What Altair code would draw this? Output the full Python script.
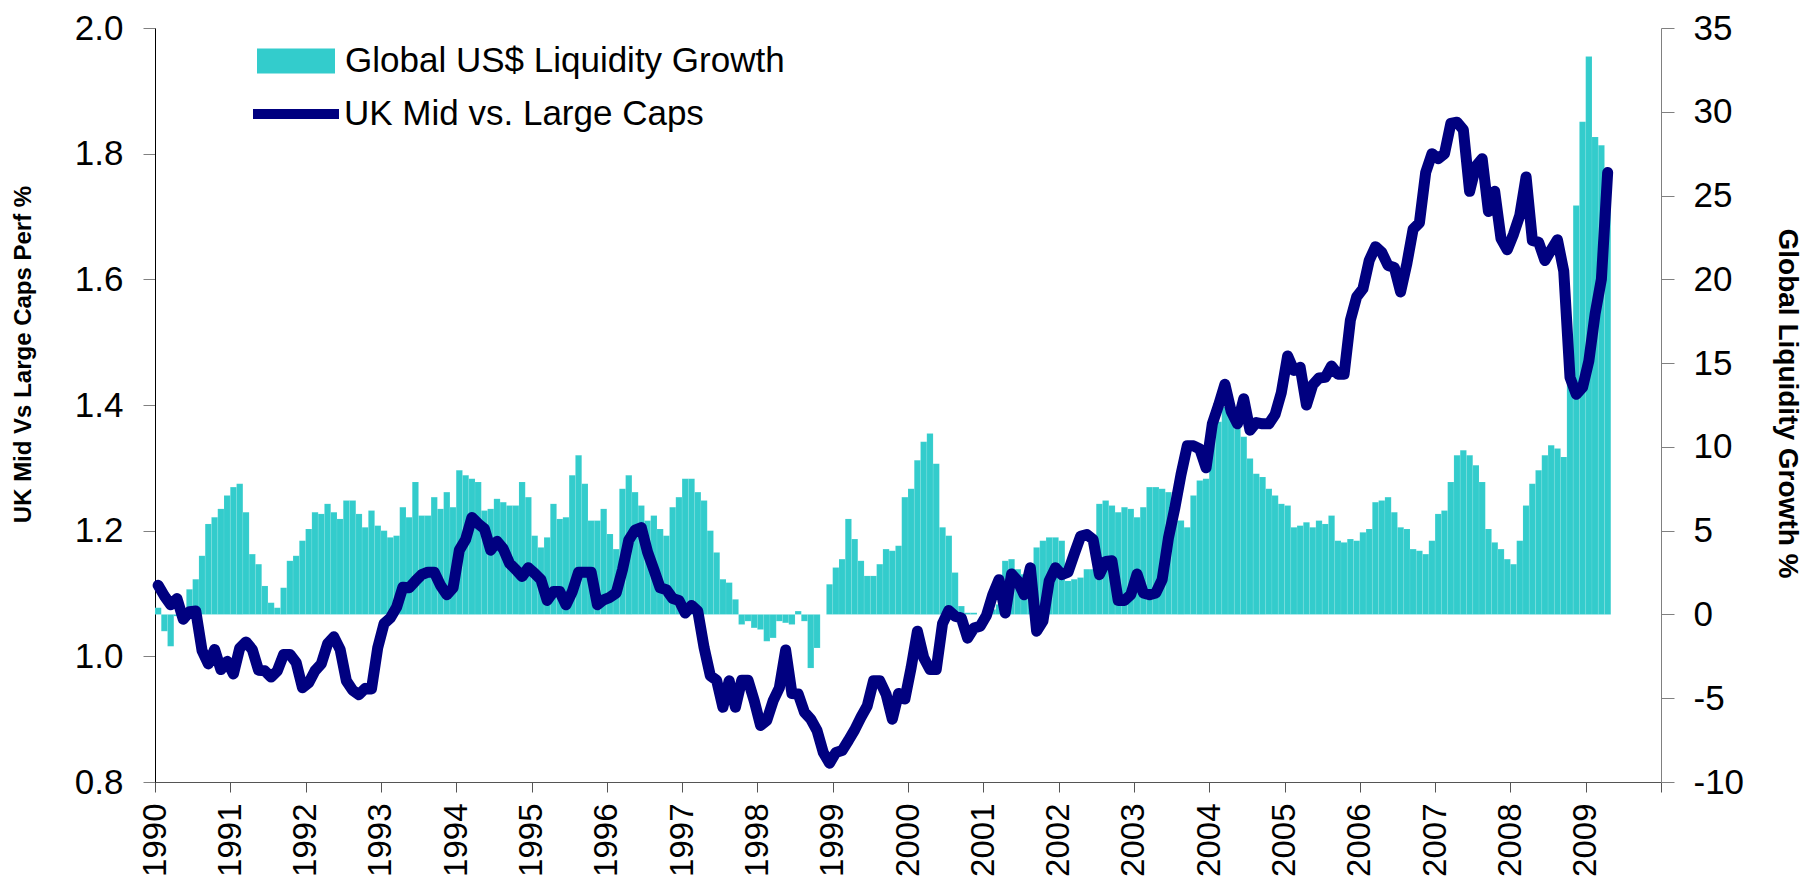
import altair as alt
import pandas as pd

# Global US$ liquidity growth, % (monthly, Jan 1990 .. Apr 2009) - right axis
liq = [
    0.4, -1.0, -1.9, -0.1, 0.3, 1.5, 2.1, 3.5, 5.4, 5.8, 6.3, 7.1,      # 1990
    7.6, 7.8, 6.1, 3.6, 3.0, 1.7, 0.7, 0.4, 1.6, 3.2, 3.5, 4.4,         # 1991
    5.1, 6.1, 6.0, 6.6, 6.1, 5.7, 6.8, 6.8, 6.0, 5.2, 6.2, 5.3,         # 1992
    5.0, 4.6, 4.7, 6.4, 5.8, 7.9, 5.9, 5.9, 7.0, 6.3, 7.3, 6.4,         # 1993
    8.6, 8.3, 8.1, 7.9, 6.2, 6.3, 6.9, 6.7, 6.5, 6.5, 7.9, 7.0,         # 1994
    4.7, 4.0, 4.6, 6.6, 5.7, 5.8, 8.3, 9.5, 7.8, 5.6, 5.6, 6.3,         # 1995
    4.8, 3.9, 7.5, 8.3, 7.3, 6.5, 5.6, 5.9, 5.1, 4.7, 6.4, 7.0,         # 1996
    8.1, 8.1, 7.3, 6.8, 5.0, 3.7, 2.1, 1.9, 0.9, -0.6, -0.4, -0.8,      # 1997
    -0.9, -1.6, -1.4, -0.4, -0.5, -0.6, 0.2, -0.4, -3.2, -2.0, 0.0, 1.8,  # 1998
    2.8, 3.3, 5.7, 4.5, 3.2, 2.3, 2.3, 3.0, 3.9, 3.8, 4.1, 7.0,         # 1999
    7.5, 9.2, 10.3, 10.8, 9.0, 5.2, 4.7, 2.5, 0.5, 0.1, 0.1, 0.0,       # 2000
    0.0, 0.3, 0.6, 3.2, 3.3, 2.7, 2.4, 2.4, 4.0, 4.4, 4.6, 4.6,         # 2001
    4.4, 2.0, 2.1, 2.2, 2.7, 2.7, 6.6, 6.8, 6.5, 6.1, 6.4, 6.3,         # 2002
    5.8, 6.4, 7.6, 7.6, 7.5, 7.3, 5.6, 5.6, 5.2, 7.1, 8.0, 8.1,         # 2003
    10.8, 11.5, 12.4, 12.3, 11.5, 10.6, 9.3, 8.4, 8.2, 7.5, 7.1, 6.6,   # 2004
    6.5, 5.2, 5.3, 5.5, 5.2, 5.6, 5.4, 5.9, 4.4, 4.3, 4.5, 4.4,         # 2005
    4.9, 5.1, 6.7, 6.8, 7.0, 6.1, 5.2, 5.1, 3.9, 3.8, 3.6, 4.4,         # 2006
    6.0, 6.2, 7.9, 9.5, 9.8, 9.5, 8.9, 7.9, 5.1, 4.3, 3.9, 3.3,         # 2007
    3.0, 4.4, 6.5, 7.8, 8.6, 9.5, 10.1, 9.9, 9.4, 14.0, 24.4, 29.4,     # 2008
    33.3, 28.5, 28.0, 26.5,                                             # 2009
]

# UK Mid vs Large Caps relative performance (monthly) - left axis
uk = [
    1.113, 1.096, 1.082, 1.092, 1.059, 1.071, 1.072, 1.009, 0.988, 1.011, 0.979, 0.992,
    0.972, 1.013, 1.023, 1.011, 0.978, 0.977, 0.967, 0.977, 1.003, 1.003, 0.990, 0.950,
    0.958, 0.977, 0.988, 1.020, 1.031, 1.011, 0.961, 0.946, 0.939, 0.949, 0.948, 1.014,
    1.052, 1.061, 1.078, 1.110, 1.109, 1.120, 1.130, 1.134, 1.134, 1.113, 1.098, 1.109,
    1.169, 1.186, 1.221, 1.211, 1.203, 1.169, 1.183, 1.171, 1.148, 1.138, 1.127, 1.141,
    1.132, 1.122, 1.089, 1.103, 1.103, 1.082, 1.103, 1.134, 1.134, 1.134, 1.082, 1.090,
    1.094, 1.101, 1.138, 1.185, 1.201, 1.205, 1.166, 1.138, 1.109, 1.106, 1.092, 1.089,
    1.069, 1.081, 1.072, 1.014, 0.969, 0.962, 0.919, 0.961, 0.919, 0.962, 0.962, 0.929,
    0.890, 0.898, 0.929, 0.950, 1.010, 0.941, 0.940, 0.911, 0.900, 0.882, 0.847, 0.830,
    0.847, 0.850, 0.866, 0.883, 0.903, 0.921, 0.961, 0.961, 0.940, 0.900, 0.941, 0.932,
    0.982, 1.040, 0.998, 0.979, 0.979, 1.052, 1.073, 1.064, 1.061, 1.029, 1.045, 1.048,
    1.065, 1.098, 1.122, 1.069, 1.131, 1.120, 1.098, 1.141, 1.040, 1.056, 1.120, 1.141,
    1.130, 1.134, 1.163, 1.191, 1.194, 1.186, 1.130, 1.151, 1.152, 1.089, 1.089, 1.098,
    1.131, 1.101, 1.098, 1.101, 1.122, 1.188, 1.235, 1.289, 1.335, 1.335, 1.330, 1.300,
    1.370, 1.400, 1.433, 1.390, 1.370, 1.410, 1.360, 1.372, 1.370, 1.370, 1.385, 1.420,
    1.478, 1.455, 1.460, 1.400, 1.432, 1.443, 1.444, 1.462, 1.449, 1.449, 1.535, 1.572,
    1.585, 1.630, 1.652, 1.643, 1.622, 1.619, 1.580, 1.625, 1.680, 1.690, 1.770, 1.800,
    1.792, 1.800, 1.848, 1.850, 1.838, 1.740, 1.780, 1.792, 1.708, 1.740, 1.665, 1.647,
    1.672, 1.702, 1.763, 1.662, 1.659, 1.630, 1.647, 1.663, 1.613, 1.444, 1.417, 1.428,
    1.470, 1.545, 1.600, 1.770,
]

year_ticks = list(range(1990, 2011))
left_ticks = [0.8, 1.0, 1.2, 1.4, 1.6, 1.8, 2.0]
right_ticks = list(range(-10, 36, 5))

bar_name = "Global US$ Liquidity Growth"
line_name = "UK Mid vs. Large Caps"

months = pd.date_range("1990-01-01", periods=len(liq), freq="MS")
bar_df = pd.DataFrame({
    "t0": [d.year + (d.month - 1) / 12 for d in months],
    "t1": [d.year + d.month / 12 for d in months],
    "liq": liq,
    "series": bar_name,
})
lmonths = pd.date_range("1990-01-01", periods=len(uk), freq="MS")
line_df = pd.DataFrame({
    "t": [d.year + (d.month - 0.5) / 12 for d in lmonths],
    "uk": uk,
    "series2": line_name,
})

FONT = "Liberation Sans"
LBL = 35

xscale = alt.Scale(domain=[1990, 2010], nice=False, zero=False)
xaxis = alt.Axis(
    values=year_ticks, format="d", labelAngle=270, labelAlign="right",
    labelBaseline="middle", tickSize=10, labelPadding=11,
    labelFontSize=33, labelColor="black", domainColor="#555555",
    tickColor="#555555", title=None, grid=False, labelFlush=False,
    labelOverlap=False,
    labelExpr="datum.value >= 2010 ? '' : '' + datum.value")

bars = alt.Chart(bar_df).mark_bar(
    stroke="white", strokeWidth=0.4, strokeOpacity=0.2
).encode(
    x=alt.X("t0:Q", scale=xscale, axis=xaxis),
    x2="t1:Q",
    y=alt.Y("liq:Q", scale=alt.Scale(domain=[-10, 35], nice=False, zero=False),
            axis=alt.Axis(orient="right", values=right_ticks,
                          labelExpr="'' + datum.value",
                          tickSize=13, labelPadding=19, labelFontSize=LBL,
                          labelColor="black", domainColor="#808080",
                          tickColor="#808080", grid=False,
                          title="Global Liquidity Growth %", titleFontSize=28,
                          titleFontWeight="bold", titleColor="black",
                          titleAngle=90, titleX=125, titleY=375,
                          titleAlign="center", titleBaseline="middle")),
    y2=alt.datum(0),
    fill=alt.Fill("series:N", scale=alt.Scale(domain=[bar_name], range=["#33CCCC"]),
                  legend=alt.Legend(orient="none", legendX=102, legendY=-6,
                                    title=None, padding=0,
                                    symbolType="M-1,-0.32H1V0.32H-1Z",
                                    symbolSize=6084, symbolStrokeWidth=0,
                                    symbolOpacity=1, labelFontSize=LBL,
                                    labelColor="black", labelOffset=10,
                                    labelLimit=800)),
)

line = alt.Chart(line_df).mark_line(
    strokeWidth=11, strokeJoin="round", strokeCap="round"
).encode(
    x=alt.X("t:Q", scale=xscale, axis=xaxis),
    y=alt.Y("uk:Q", scale=alt.Scale(domain=[0.8, 2.0], nice=False, zero=False),
            axis=alt.Axis(orient="left", values=left_ticks, format=".1f",
                          tickSize=12, labelPadding=20, labelFontSize=LBL,
                          labelColor="black", domainColor="black",
                          tickColor="#808080", grid=False,
                          title="UK Mid Vs Large Caps Perf %", titleFontSize=24,
                          titleFontWeight="bold", titleColor="black",
                          titleAngle=270, titleX=-132, titleY=326,
                          titleAlign="center", titleBaseline="middle")),
    stroke=alt.Stroke("series2:N", scale=alt.Scale(domain=[line_name], range=["#000080"]),
                      legend=alt.Legend(orient="none", legendX=93, legendY=38,
                                        title=None, padding=0,
                                        symbolType="stroke", symbolSize=7396,
                                        symbolStrokeWidth=10, labelFontSize=LBL,
                                        labelColor="black", labelOffset=0,
                                        labelLimit=800)),
)

chart = alt.layer(bars, line).resolve_scale(
    y="independent", fill="independent", stroke="independent"
).properties(
    width=1506, height=754,
    padding={"left": 147, "top": 20, "right": 146, "bottom": 98},
    autosize=alt.AutoSizeParams(type="none"),
).configure(font=FONT).configure_view(stroke=None)

chart.save("out.html", embed_options={"renderer": "svg", "actions": False})
